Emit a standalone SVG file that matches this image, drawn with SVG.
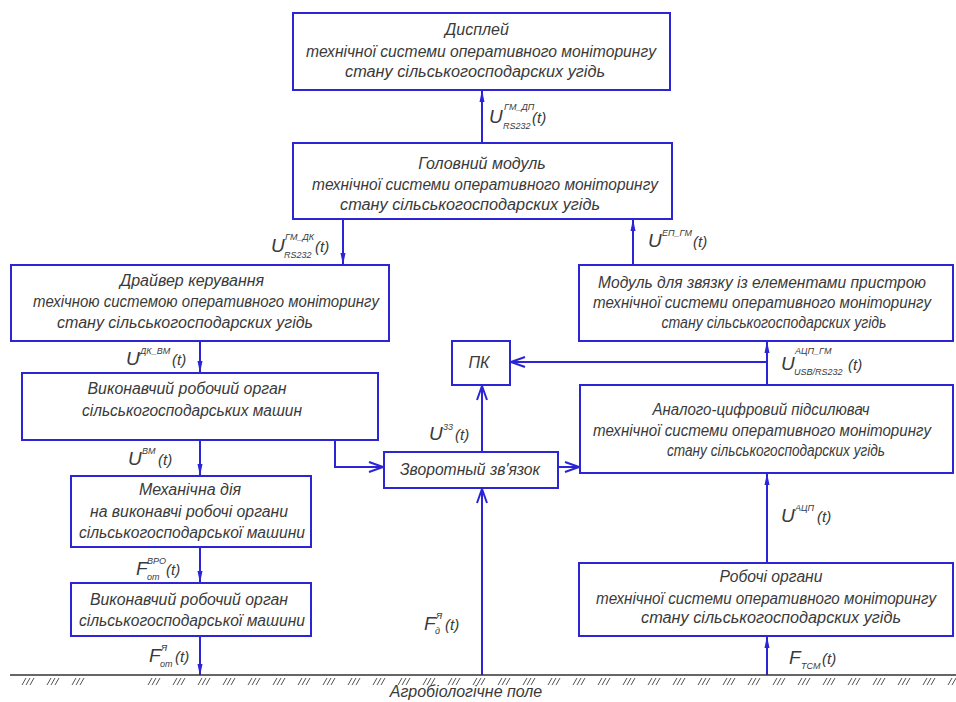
<svg xmlns="http://www.w3.org/2000/svg" width="956" height="702" viewBox="0 0 956 702">
<style>
.box{fill:#fff;stroke:#2b25d6;stroke-width:2}
.t{font-family:"Liberation Sans",Arial,sans-serif;font-style:italic;font-size:16px;fill:#3a3a3a;text-anchor:middle}
.l{font-family:"Liberation Sans",Arial,sans-serif;font-style:italic;font-size:19px;fill:#3a3a3a}
.s{font-size:9px}
.p{font-size:15px}
.c{fill:none;stroke:#2b25d6;stroke-width:2}
.fa{marker-end:url(#fa)}
.oa{marker-end:url(#oa)}
</style>
<defs>
<marker id="fa" markerUnits="userSpaceOnUse" markerWidth="12" markerHeight="8" viewBox="0 0 12 8" refX="11" refY="4" orient="auto">
<path d="M0,1.5 L12,4 L0,6.5 Z" fill="#2b25d6"/>
</marker>
<marker id="oa" markerUnits="userSpaceOnUse" markerWidth="16" markerHeight="12" viewBox="0 0 16 12" refX="15" refY="6" orient="auto">
<path d="M1,1 L15,6 L1,11" fill="none" stroke="#2b25d6" stroke-width="2"/>
</marker>
</defs>
<rect width="956" height="702" fill="#fff"/>

<g id="connectors">
<line class="c fa" x1="482" y1="143" x2="482" y2="91"/>
<line class="c fa" x1="343" y1="219" x2="343" y2="264"/>
<line class="c fa" x1="633" y1="265" x2="633" y2="220"/>
<line class="c fa" x1="200" y1="341" x2="200" y2="372"/>
<line class="c fa" x1="200" y1="440" x2="200" y2="475"/>
<line class="c fa" x1="200" y1="547" x2="200" y2="582"/>
<line class="c fa" x1="200" y1="636" x2="200" y2="675"/>
<path class="c oa" d="M335,440 V467 H383"/>
<line class="c oa" x1="482" y1="452" x2="482" y2="386"/>
<line class="c oa" x1="482" y1="675" x2="482" y2="489"/>
<line class="c oa" x1="558" y1="467" x2="579" y2="467"/>
<line class="c fa" x1="767" y1="385" x2="767" y2="342"/>
<line class="c oa" x1="767" y1="362" x2="511" y2="362"/>
<line class="c fa" x1="767" y1="563" x2="767" y2="474"/>
<line class="c fa" x1="767" y1="675" x2="767" y2="637"/>
</g>

<g id="display">
<rect class="box" x="293" y="13" width="377" height="77"/>
<text class="t" x="477" y="35">Дисплей</text>
<text class="t" x="481" y="57" textLength="350" lengthAdjust="spacingAndGlyphs">технічної системи оперативного моніторингу</text>
<text class="t" x="475" y="77" textLength="260" lengthAdjust="spacingAndGlyphs">стану сільськогосподарских угідь</text>
</g>

<g id="main-module">
<rect class="box" x="293" y="143" width="379" height="76"/>
<text class="t" x="482" y="169">Головний модуль</text>
<text class="t" x="485" y="190" textLength="346" lengthAdjust="spacingAndGlyphs">технічної системи оперативного моніторингу</text>
<text class="t" x="470" y="210" textLength="260" lengthAdjust="spacingAndGlyphs">стану сільськогосподарских угідь</text>
</g>

<g id="driver">
<rect class="box" x="11" y="265" width="378" height="76"/>
<text class="t" x="192" y="286">Драйвер керування</text>
<text class="t" x="206" y="307" textLength="346" lengthAdjust="spacingAndGlyphs">техічною системою оперативного моніторингу</text>
<text class="t" x="185" y="328" textLength="256" lengthAdjust="spacingAndGlyphs">стану сільськогосподарских угідь</text>
</g>

<g id="link-module">
<rect class="box" x="579" y="265" width="374" height="76"/>
<text class="t" x="762" y="288" textLength="328" lengthAdjust="spacingAndGlyphs">Модуль для звязку із елементами пристрою</text>
<text class="t" x="762" y="308" textLength="338" lengthAdjust="spacingAndGlyphs">технічної системи оперативного моніторингу</text>
<text class="t" x="774" y="328" textLength="225" lengthAdjust="spacingAndGlyphs">стану сільськогосподарских угідь</text>
</g>

<g id="pk">
<rect class="box" x="452" y="341" width="58" height="44"/>
<text class="t" x="479" y="368">ПК</text>
</g>

<g id="adc">
<rect class="box" x="580" y="385" width="373" height="88"/>
<text class="t" x="761" y="415" textLength="217" lengthAdjust="spacingAndGlyphs">Аналого-цифровий підсилювач</text>
<text class="t" x="762" y="436" textLength="338" lengthAdjust="spacingAndGlyphs">технічної системи оперативного моніторингу</text>
<text class="t" x="776" y="456" textLength="218" lengthAdjust="spacingAndGlyphs">стану сільськогосподарских угідь</text>
</g>

<g id="actuator">
<rect class="box" x="22" y="373" width="356" height="67"/>
<text class="t" x="187" y="394" textLength="199" lengthAdjust="spacingAndGlyphs">Виконавчий робочий орган</text>
<text class="t" x="192" y="416" textLength="220" lengthAdjust="spacingAndGlyphs">сільськогосподарських машин</text>
</g>

<g id="feedback">
<rect class="box" x="384" y="452" width="174" height="36"/>
<text class="t" x="470" y="475" textLength="140" lengthAdjust="spacingAndGlyphs">Зворотный зв'язок</text>
</g>

<g id="mechanical">
<rect class="box" x="71" y="476" width="240" height="71"/>
<text class="t" x="190" y="495">Механічна дія</text>
<text class="t" x="189" y="517" textLength="198" lengthAdjust="spacingAndGlyphs">на виконавчі робочі органи</text>
<text class="t" x="192" y="538" textLength="226" lengthAdjust="spacingAndGlyphs">сільськогосподарської машини</text>
</g>

<g id="actuator-2">
<rect class="box" x="71" y="583" width="240" height="53"/>
<text class="t" x="189" y="605" textLength="198" lengthAdjust="spacingAndGlyphs">Виконавчий робочий орган</text>
<text class="t" x="192" y="626" textLength="226" lengthAdjust="spacingAndGlyphs">сільськогосподарської машини</text>
</g>

<g id="working-organs">
<rect class="box" x="579" y="563" width="374" height="73"/>
<text class="t" x="771" y="582" textLength="103" lengthAdjust="spacingAndGlyphs">Робочі органи</text>
<text class="t" x="766" y="604" textLength="340" lengthAdjust="spacingAndGlyphs">технічної системи оперативного моніторингу</text>
<text class="t" x="771" y="623" textLength="260" lengthAdjust="spacingAndGlyphs">стану сільськогосподарских угідь</text>
</g>

<g id="labels">
<text class="l" x="489" y="123">U<tspan class="s" x="504" y="110">ГМ_ДП</tspan><tspan class="s" x="503" y="129">RS232</tspan><tspan class="p" x="532" y="123">(t)</tspan></text>
<text class="l" x="271" y="252">U<tspan class="s" x="285" y="240">ГМ_ДК</tspan><tspan class="s" x="284" y="258">RS232</tspan><tspan class="p" x="315" y="252">(t)</tspan></text>
<text class="l" x="648" y="247">U<tspan class="s" x="662" y="236">ЕП_ГМ</tspan><tspan class="p" x="693" y="247">(t)</tspan></text>
<text class="l" x="126" y="365">U<tspan class="s" x="140" y="354">ДК_ВМ</tspan><tspan class="p" x="172" y="365">(t)</tspan></text>
<text class="l" x="781" y="370">U<tspan class="s" x="795" y="354">АЦП_ГМ</tspan><tspan class="s" x="794" y="375">USB/RS232</tspan><tspan class="p" x="848" y="370">(t)</tspan></text>
<text class="l" x="429" y="440">U<tspan class="s" x="443" y="430">33</tspan><tspan class="p" x="455" y="440">(t)</tspan></text>
<text class="l" x="128" y="465">U<tspan class="s" x="142" y="454">ВМ</tspan><tspan class="p" x="158" y="465">(t)</tspan></text>
<text class="l" x="136" y="575">F<tspan class="s" x="147" y="564">ВРО</tspan><tspan class="s" x="147" y="580">от</tspan><tspan class="p" x="166" y="575">(t)</tspan></text>
<text class="l" x="149" y="662">F<tspan class="s" x="161" y="651">Я</tspan><tspan class="s" x="160" y="667">от</tspan><tspan class="p" x="175" y="662">(t)</tspan></text>
<text class="l" x="424" y="630">F<tspan class="s" x="436" y="619">Я</tspan><tspan class="s" x="435" y="634">д</tspan><tspan class="p" x="445" y="630">(t)</tspan></text>
<text class="l" x="781" y="522">U<tspan class="s" x="795" y="511">АЦП</tspan><tspan class="p" x="817" y="522">(t)</tspan></text>
<text class="l" x="789" y="664">F<tspan class="s" x="801" y="669">ТСМ</tspan><tspan class="p" x="822" y="664">(t)</tspan></text>
</g>

<g id="ground">
<line x1="10" y1="675" x2="956" y2="675" stroke="#333" stroke-width="1.5"/>
<path stroke="#555" stroke-width="1" fill="none" d="
M22,685 l4,-7 m0,7 l4,-7 m0,7 l4,-7
M47,685 l4,-7 m0,7 l4,-7 m0,7 l4,-7
M72,685 l4,-7 m0,7 l4,-7 m0,7 l4,-7
M148,685 l4,-7 m0,7 l4,-7 m0,7 l4,-7
M173,685 l4,-7 m0,7 l4,-7 m0,7 l4,-7
M198,685 l4,-7 m0,7 l4,-7 m0,7 l4,-7
M223,685 l4,-7 m0,7 l4,-7 m0,7 l4,-7
M248,685 l4,-7 m0,7 l4,-7 m0,7 l4,-7
M273,685 l4,-7 m0,7 l4,-7 m0,7 l4,-7
M298,685 l4,-7 m0,7 l4,-7 m0,7 l4,-7
M323,685 l4,-7 m0,7 l4,-7 m0,7 l4,-7
M348,685 l4,-7 m0,7 l4,-7 m0,7 l4,-7
M373,685 l4,-7 m0,7 l4,-7 m0,7 l4,-7
M398,685 l4,-7 m0,7 l4,-7 m0,7 l4,-7
M423,685 l4,-7 m0,7 l4,-7 m0,7 l4,-7
M448,685 l4,-7 m0,7 l4,-7 m0,7 l4,-7
M473,685 l4,-7 m0,7 l4,-7 m0,7 l4,-7
M498,685 l4,-7 m0,7 l4,-7 m0,7 l4,-7
M523,685 l4,-7 m0,7 l4,-7 m0,7 l4,-7
M548,685 l4,-7 m0,7 l4,-7 m0,7 l4,-7
M573,685 l4,-7 m0,7 l4,-7 m0,7 l4,-7
M598,685 l4,-7 m0,7 l4,-7 m0,7 l4,-7
M623,685 l4,-7 m0,7 l4,-7 m0,7 l4,-7
M648,685 l4,-7 m0,7 l4,-7 m0,7 l4,-7
M673,685 l4,-7 m0,7 l4,-7 m0,7 l4,-7
M698,685 l4,-7 m0,7 l4,-7 m0,7 l4,-7
M723,685 l4,-7 m0,7 l4,-7 m0,7 l4,-7
M748,685 l4,-7 m0,7 l4,-7 m0,7 l4,-7
M773,685 l4,-7 m0,7 l4,-7 m0,7 l4,-7
M798,685 l4,-7 m0,7 l4,-7 m0,7 l4,-7
M823,685 l4,-7 m0,7 l4,-7 m0,7 l4,-7
M848,685 l4,-7 m0,7 l4,-7 m0,7 l4,-7
M873,685 l4,-7 m0,7 l4,-7 m0,7 l4,-7
M898,685 l4,-7 m0,7 l4,-7 m0,7 l4,-7
M923,685 l4,-7 m0,7 l4,-7 m0,7 l4,-7
M948,685 l4,-7 m0,7 l4,-7"/>
<text class="t" x="466" y="697">Агробіологічне поле</text>
</g>
</svg>
